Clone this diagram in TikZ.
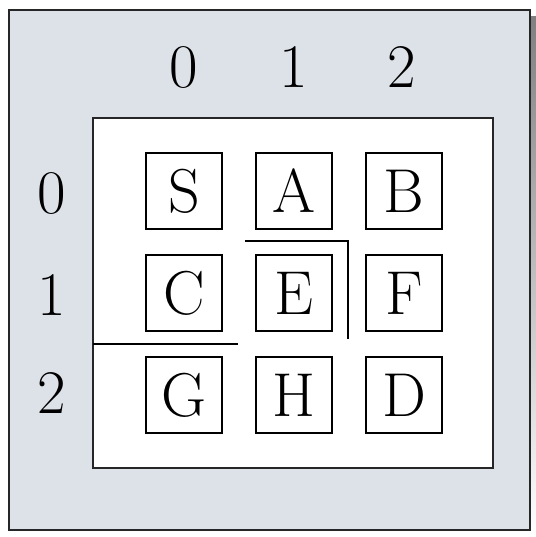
\documentclass[tikz,border=0pt]{standalone}
\definecolor{panel}{RGB}{221,226,233}
\definecolor{shade}{RGB}{32,32,34}
\tikzset{
  cell/.style={draw, line width=0.75pt, minimum size=38pt, inner sep=0pt},
  idx/.style={inner sep=0pt},
  wall/.style={line width=1pt},
}
\begin{document}
\begin{tikzpicture}[x=0.5pt, y=-0.5pt, font=\fontsize{31}{31}\selectfont]
    \useasboundingbox (0,0) rectangle (536,537);
    % panel with its shadow
    \fill[shade] (15,16) rectangle (536,537);
    \filldraw[fill=panel, draw=black!85, line width=1.2pt] (9,10) rectangle (530,530);
    \filldraw[fill=white, draw=black!85, line width=1pt] (93,118) rectangle (493,468);

    \node[idx] (col0) at (184,67) {0};
    \node[idx] (col1) at (294,67) {1};
    \node[idx] (col2) at (402,67) {2};
    \node[idx] (row0) at (52,193) {0};
    \node[idx] (row1) at (52,295) {1};
    \node[idx] (row2) at (52,393) {2};

    \node[cell] (S) at (184,191) {S};
    \node[cell] (A) at (294,191) {A};
    \node[cell] (B) at (404,191) {B};
    \node[cell] (C) at (184,293) {C};
    \node[cell] (E) at (294,293) {E};
    \node[cell] (F) at (404,293) {F};
    \node[cell] (G) at (184,395) {G};
    \node[cell] (H) at (294,395) {H};
    \node[cell] (D) at (404,395) {D};

    \draw[wall] (93,344) -- (238,344); % wall under C
    \draw[wall] (245,241) -- (348,241) -- (348,339); % wall round E
\end{tikzpicture}
\end{document}
